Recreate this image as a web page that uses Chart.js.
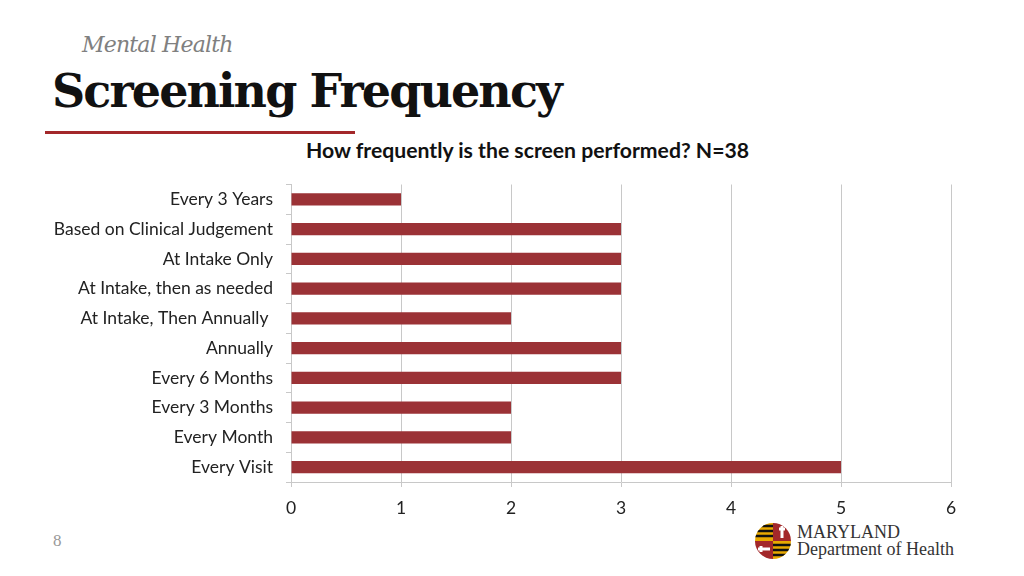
<!DOCTYPE html>
<html>
<head>
<meta charset="utf-8">
<script src="https://cdn.jsdelivr.net/npm/chart.js@4.4.1/dist/chart.umd.min.js"></script>
<style>
  html, body { margin: 0; padding: 0; background: #fff; }
  body { width: 1024px; height: 576px; position: relative; overflow: hidden; }
  .kicker { position: absolute; left: 82px; top: 32px; font: italic 22px "DejaVu Serif", "Liberation Serif", serif; color: #808080; letter-spacing: -0.8px; }
  .title { position: absolute; left: 52px; top: 64px; font: bold 46px "DejaVu Serif", "Liberation Serif", serif; color: #111; letter-spacing: -1.9px; }
  .rule { position: absolute; left: 45px; top: 131px; width: 310px; height: 3px; background: #a3282a; }
  .question { position: absolute; left: 0; width: 1055px; top: 137px; text-align: center; font: bold 21.2px Lato, "Noto Sans", sans-serif; color: #111; }
  .page { position: absolute; left: 53px; top: 531px; font: 17px "Liberation Serif", serif; color: #999; }
  .logo { position: absolute; left: 754px; top: 522px; }
  .logo-text { position: absolute; left: 797px; top: 524px; font: 18px/17px "Liberation Serif", serif; color: #333; }
  #wrap { position: absolute; left: 0; top: 161px; width: 1024px; height: 365px; }
</style>
</head>
<body>
<div class="kicker">Mental Health</div>
<div class="title">Screening Frequency</div>
<div class="rule"></div>
<div class="question">How frequently is the screen performed? N=38</div>
<div class="page">8</div>
<svg class="logo" width="38" height="38" viewBox="0 0 38 38">
  <defs><clipPath id="c"><circle cx="19" cy="19" r="18"/></clipPath></defs>
  <g clip-path="url(#c)">
    <rect x="0" y="0" width="19" height="19" fill="#e8a900"/>
    <path d="M0 4 L19 4 M0 9 L19 9 M0 14 L19 14" stroke="#111" stroke-width="2.5"/>
    <rect x="19" y="0" width="19" height="19" fill="#a3282a"/>
    <rect x="0" y="19" width="19" height="19" fill="#a3282a"/>
    <rect x="19" y="19" width="19" height="19" fill="#e8a900"/>
    <path d="M19 23 L38 23 M19 28 L38 28 M19 33 L38 33" stroke="#111" stroke-width="2.5"/>
    <path d="M25 7 L31 7 M28 4 L28 16 M7 24 L7 30 M4 27 L16 27" stroke="#fff" stroke-width="3"/>
  </g>
</svg>
<div class="logo-text">MARYLAND<br>Department of Health</div>
<div id="wrap"><canvas id="chart"></canvas></div>
<script>
const categories = [
  "Every 3 Years",
  "Based on Clinical Judgement",
  "At Intake Only",
  "At Intake, then as needed",
  "At Intake, Then Annually ",
  "Annually",
  "Every 6 Months",
  "Every 3 Months",
  "Every Month",
  "Every Visit"
];
const counts = [1, 3, 3, 3, 2, 3, 3, 2, 2, 5];
const xTicks = [0, 1, 2, 3, 4, 5, 6];

Chart.defaults.font.family = "Lato, 'Noto Sans', sans-serif";
Chart.defaults.font.size = 17.5;
Chart.defaults.color = "#222";

const ctx = document.getElementById("chart").getContext("2d");
new Chart(ctx, {
  type: "bar",
  data: {
    labels: categories,
    datasets: [{
      label: "Count",
      data: counts,
      backgroundColor: "#9b3236",
      borderWidth: 0,
      barPercentage: 0.42,
      categoryPercentage: 1
    }]
  },
  options: {
    indexAxis: "y",
    responsive: true,
    maintainAspectRatio: false,
    animation: false,
    layout: { padding: { top: 0, right: 73, left: 0, bottom: 0 } },
    plugins: {
      legend: { display: false },
      tooltip: { enabled: false }
    },
    scales: {
      x: {
        min: 0,
        max: 6,
        afterBuildTicks: (axis) => { axis.ticks = xTicks.map(v => ({ value: v })); },
        afterFit: (axis) => { axis.height = 44; },
        grid: { color: "#c8c8c8", tickLength: 5, drawTicks: true },
        border: { color: "#c8c8c8" },
        ticks: { padding: 11, color: "#222" }
      },
      y: {
        afterFit: (axis) => { axis.width = 291; },
        grid: { display: true, drawOnChartArea: false, tickLength: 5, color: "#c8c8c8", offset: true },
        border: { color: "#c8c8c8" },
        ticks: { padding: 13, color: "#222" }
      }
    }
  }
});
</script>
</body>
</html>
